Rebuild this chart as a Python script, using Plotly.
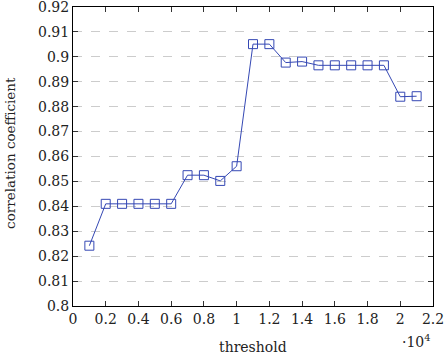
import plotly.graph_objects as go

thresholds = [1000, 2000, 3000, 4000, 5000, 6000, 7000, 8000, 9000, 10000, 11000,
              12000, 13000, 14000, 15000, 16000, 17000, 18000, 19000, 20000, 21000]
corr = [0.8242, 0.8410, 0.8410, 0.8410, 0.8410, 0.8410, 0.8525, 0.8525, 0.8502, 0.8561,
        0.9051, 0.9051, 0.8977, 0.8981, 0.8966, 0.8966, 0.8966, 0.8966, 0.8966, 0.8840, 0.8842]

x_tickvals = [0, 2000, 4000, 6000, 8000, 10000, 12000, 14000, 16000, 18000, 20000, 22000]
x_ticktext = ["0", "0.2", "0.4", "0.6", "0.8", "1", "1.2", "1.4", "1.6", "1.8", "2", "2.2"]
y_tickvals = [0.80, 0.81, 0.82, 0.83, 0.84, 0.85, 0.86, 0.87, 0.88, 0.89, 0.90, 0.91, 0.92]
y_ticktext = ["0.8", "0.81", "0.82", "0.83", "0.84", "0.85", "0.86", "0.87", "0.88",
              "0.89", "0.9", "0.91", "0.92"]

color = "#3548b4"
font = "DejaVu Serif"

fig = go.Figure()
fig.add_trace(go.Scatter(
    x=thresholds, y=corr, mode="lines+markers",
    line=dict(color=color, width=1),
    marker=dict(symbol="square-open", size=9, color=color, line=dict(width=1, color=color)),
    showlegend=False,
))

axis_common = dict(showline=True, linecolor="black", linewidth=1, mirror="ticks",
                   ticks="inside", ticklen=5, tickcolor="#333", tickwidth=1,
                   zeroline=False, ticklabeloverflow="allow", automargin=False,
                   tickfont=dict(family=font, size=14, color="#222"))

fig.update_xaxes(range=[0, 22000.001], tickvals=x_tickvals, ticktext=x_ticktext,
                 showgrid=False, **axis_common)
fig.update_yaxes(range=[0.79999, 0.92001], tickvals=y_tickvals, ticktext=y_ticktext,
                 showgrid=True, gridcolor="#cccccc", griddash="dash", gridwidth=1,
                 **axis_common)

fig.add_annotation(text="threshold", xref="paper", yref="paper", x=0.5, y=-0.137,
                   xanchor="center", yanchor="middle", showarrow=False,
                   font=dict(family=font, size=14, color="#222"))
fig.add_annotation(text="·10<sup>4</sup>", xref="paper", yref="paper", x=1.0, y=-0.118,
                   xanchor="right", yanchor="middle", showarrow=False,
                   font=dict(family=font, size=14, color="#222"))
fig.add_annotation(text="correlation coefficient", xref="paper", yref="paper", x=-0.175, y=0.512,
                   xanchor="center", yanchor="middle", textangle=-90, showarrow=False,
                   font=dict(family=font, size=13.5, color="#222"))

fig.update_layout(width=444, height=359, margin=dict(l=73, r=11, t=7, b=53),
                  plot_bgcolor="white", paper_bgcolor="white")

fig.write_html("out.html")
